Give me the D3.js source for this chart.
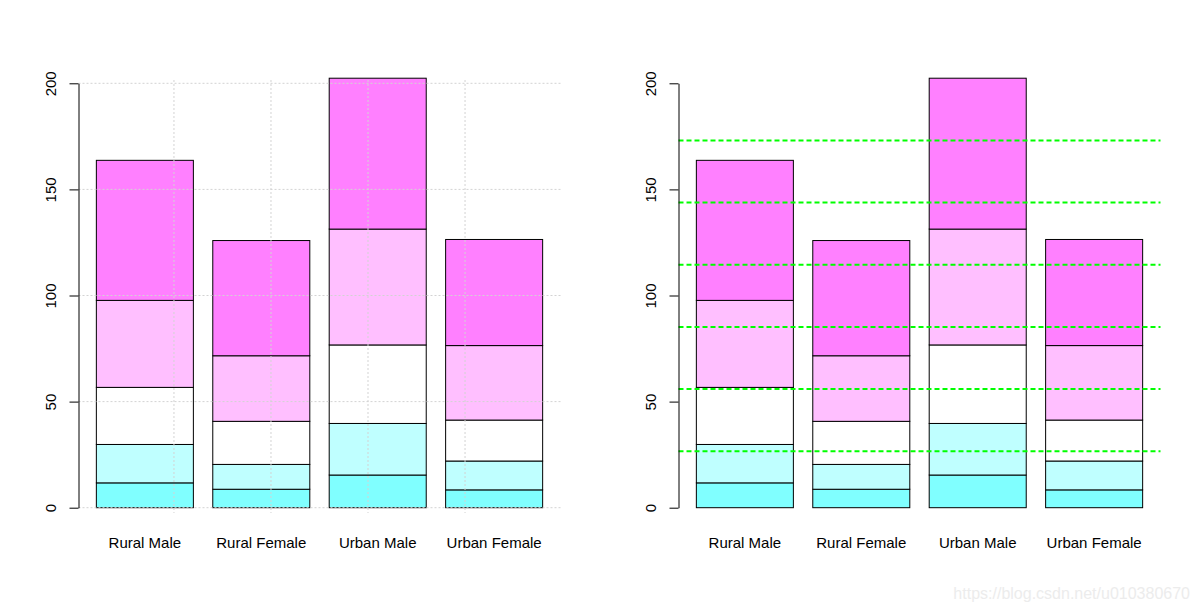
<!DOCTYPE html>
<html>
<head>
<meta charset="utf-8">
<script src="https://cdn.jsdelivr.net/npm/d3@7"></script>
<style>
  html, body { margin: 0; padding: 0; background: #fff; }
  svg { display: block; }
  text { font-family: "Liberation Sans", Arial, sans-serif; }
</style>
</head>
<body>
<svg id="chart" width="1200" height="611"></svg>
<script>
// ---- data (VADeaths) ----
const categories = ["Rural Male", "Rural Female", "Urban Male", "Urban Female"];
const ageGroups = ["50-54", "55-59", "60-64", "65-69", "70-74"];
const age5054 = [11.7, 8.7, 15.4, 8.4];
const age5559 = [18.1, 11.7, 24.3, 13.6];
const age6064 = [26.9, 20.3, 37.0, 19.3];
const age6569 = [41.0, 30.9, 54.6, 35.1];
const age7074 = [66.0, 54.3, 71.1, 50.0];
const seriesColors = ["#80FFFF", "#BFFFFF", "#FFFFFF", "#FFBFFF", "#FF80FF"];
const yTicks = [0, 50, 100, 150, 200];
const gridXTicks = [1, 2, 3, 4];
const refLines = [26.6, 55.9, 85.2, 114.5, 143.8, 173.1];

const series = [age5054, age5559, age6064, age6569, age7074];
const table = categories.map((c, i) => {
  const row = { cat: c };
  ageGroups.forEach((g, k) => row[g] = series[k][i]);
  return row;
});
const stacked = d3.stack().keys(ageGroups)(table);

const svg = d3.select("#chart");

// bar layout in R barplot units: width 1, space 0.2
const barStart = categories.map((c, i) => 0.2 + i * 1.2);

function panel(offsetX, mode) {
  const g = svg.append("g").attr("transform", `translate(${offsetX},0)`);
  const x = d3.scaleLinear().domain([0.016, 4.984]).range([78.5, 560.5]);
  const y = d3.scaleLinear().domain([0, 200]).range([507.7, 83.3]);

  // bars
  stacked.forEach((layer, k) => {
    g.append("g").selectAll("rect").data(layer).join("rect")
      .attr("x", (d, i) => x(barStart[i]))
      .attr("width", (d, i) => x(barStart[i] + 1) - x(barStart[i]))
      .attr("y", d => y(d[1]))
      .attr("height", d => y(d[0]) - y(d[1]))
      .attr("fill", seriesColors[k])
      .attr("stroke", "#000")
      .attr("stroke-width", 1);
  });

  if (mode === "grid") {
    const gg = g.append("g");
    gg.selectAll("line.h").data(yTicks).join("line")
      .attr("x1", x.range()[0]).attr("x2", x.range()[1])
      .attr("y1", d => y(d)).attr("y2", d => y(d))
      .attr("stroke", "#d3d3d3").attr("stroke-width", 1)
      .attr("stroke-dasharray", "2,2");
    gg.selectAll("line.v").data(gridXTicks).join("line")
      .attr("x1", d => x(d)).attr("x2", d => x(d))
      .attr("y1", 80).attr("y2", 513)
      .attr("stroke", "#d3d3d3").attr("stroke-width", 1)
      .attr("stroke-dasharray", "2,2");
  } else {
    g.append("g").selectAll("line").data(refLines).join("line")
      .attr("x1", x.range()[0]).attr("x2", x.range()[1])
      .attr("y1", d => y(d)).attr("y2", d => y(d))
      .attr("stroke", "#00ff00").attr("stroke-width", 2)
      .attr("stroke-dasharray", "5,3");
  }

  // y axis
  const ax = g.append("g").attr("transform", `translate(${x.range()[0]},0)`)
    .call(d3.axisLeft(y).tickValues(yTicks).tickSizeInner(9).tickSizeOuter(0).tickFormat(d3.format("d")));
  ax.selectAll("path, line").attr("stroke", "#000").attr("stroke-width", 1);
  ax.selectAll("text")
    .attr("x", null).attr("dy", null)
    .attr("transform", "translate(-23,0) rotate(-90)")
    .attr("text-anchor", "middle")
    .attr("font-size", 15)
    .attr("font-family", "Liberation Sans, Arial, sans-serif")
    .attr("fill", "#000");

  // category labels
  g.append("g").selectAll("text").data(categories).join("text")
    .attr("x", (d, i) => x(barStart[i] + 0.5))
    .attr("y", 548)
    .attr("text-anchor", "middle")
    .attr("font-size", 15)
    .attr("fill", "#000")
    .text(d => d);
}

panel(0, "grid");
panel(600, "lines");

svg.append("text")
  .attr("x", 1190).attr("y", 599)
  .attr("text-anchor", "end")
  .attr("font-size", 16)
  .attr("fill", "#ececec")
  .text("https://blog.csdn.net/u010380670");
</script>
</body>
</html>
